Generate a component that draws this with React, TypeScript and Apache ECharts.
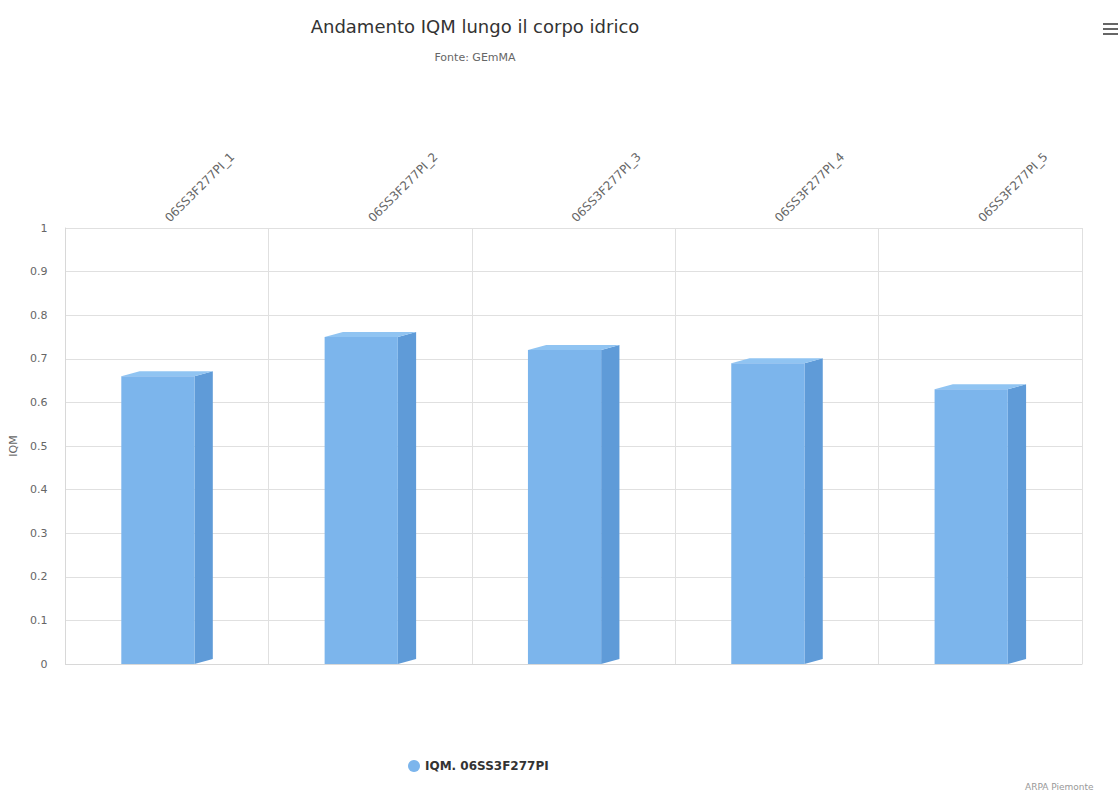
import React, { useEffect, useRef } from "react";
import * as echarts from "echarts";

const categories = [
  "06SS3F277PI_1",
  "06SS3F277PI_2",
  "06SS3F277PI_3",
  "06SS3F277PI_4",
  "06SS3F277PI_5",
];
const iqmValues = [0.66, 0.75, 0.72, 0.69, 0.63];
const yTicks = { min: 0, max: 1, interval: 0.1 };
const seriesName = "IQM. 06SS3F277PI";

const FONT = "'DejaVu Sans', 'Lucida Grande', sans-serif";

export default function App() {
  const ref = useRef<HTMLDivElement>(null);
  useEffect(() => {
    if (!ref.current) return;
    const chart = echarts.init(ref.current, null, { renderer: "svg" });
    const option: any = {
      animation: false,
      backgroundColor: "#ffffff",
      title: [
        {
          text: "Andamento IQM lungo il corpo idrico",
          left: 470,
          top: 12,
          textAlign: "center",
          textStyle: { fontFamily: FONT, fontSize: 18, fontWeight: "normal", color: "#333333" },
        },
        {
          text: "Fonte: GEmMA",
          left: 470,
          top: 47,
          textAlign: "center",
          textStyle: { fontFamily: FONT, fontSize: 11, fontWeight: "normal", color: "#666666" },
        },
      ],
      legend: {
        data: [{ name: seriesName, icon: "circle" }],
        left: 403,
        top: 755,
        itemWidth: 12,
        itemHeight: 12,
        textStyle: { fontFamily: FONT, fontSize: 12, fontWeight: "bold", color: "#333333" },
      },
      grid: { left: 62, right: 38, top: 228, bottom: 128, containLabel: false },
      xAxis: {
        type: "category",
        data: categories,
        position: "top",
        axisLine: { show: true, lineStyle: { color: "#d8d8d8" } },
        axisTick: { show: false },
        splitLine: { show: true, lineStyle: { color: "#e0e0e0" } },
        axisLabel: {
          rotate: 45,
          fontFamily: FONT,
          fontSize: 12,
          color: "#666666",
          margin: 8,
        },
      },
      yAxis: {
        type: "value",
        min: yTicks.min,
        max: yTicks.max,
        interval: yTicks.interval,
        name: "IQM",
        nameLocation: "middle",
        nameGap: 42,
        nameTextStyle: { fontFamily: FONT, fontSize: 11, color: "#666666" },
        axisLine: { show: true, lineStyle: { color: "#d8d8d8" } },
        axisTick: { show: false },
        splitLine: { show: true, lineStyle: { color: "#e0e0e0" } },
        axisLabel: {
          fontFamily: FONT,
          fontSize: 11,
          color: "#666666",
          margin: 18,
          formatter: (v: number) => String(Math.round(v * 10) / 10),
        },
      },
      series: [
        {
          name: seriesName,
          type: "custom",
          itemStyle: { color: "#7cb5ec" },
          encode: { x: 0, y: 1 },
          data: iqmValues.map((v, i) => [i, v]),
          renderItem: (params: any, api: any) => {
            const i = api.value(0);
            const v = api.value(1);
            const top = api.coord([i, v]);
            const base = api.coord([i, 0]);
            const band = api.size([1, 0])[0];
            const w = band * 0.36;
            const d = band * 0.09;
            const dy = 5;
            const L = top[0] - w / 2 - d / 2;
            const R = L + w;
            const yT = top[1];
            const yB = base[1];
            return {
              type: "group",
              children: [
                {
                  type: "polygon",
                  shape: { points: [[R, yT], [R + d, yT - dy], [R + d, yB - dy], [R, yB]] },
                  style: { fill: "#5f9bd8" },
                },
                {
                  type: "polygon",
                  shape: { points: [[L, yT], [R, yT], [R + d, yT - dy], [L + d, yT - dy]] },
                  style: { fill: "#90c4f2" },
                },
                {
                  type: "rect",
                  shape: { x: L, y: yT, width: w, height: yB - yT },
                  style: { fill: "#7cb5ec" },
                },
              ],
            };
          },
        },
      ],
      graphic: [
        { type: "rect", shape: { x: 1103, y: 23, width: 15, height: 2 }, style: { fill: "#666666" } },
        { type: "rect", shape: { x: 1103, y: 28, width: 15, height: 2 }, style: { fill: "#666666" } },
        { type: "rect", shape: { x: 1103, y: 33, width: 15, height: 2 }, style: { fill: "#666666" } },
        {
          type: "text",
          x: 1025,
          y: 782,
          style: { text: "ARPA Piemonte", fontFamily: FONT, fontSize: 9, fill: "#999999" },
        },
      ],
    };
    chart.setOption(option);
    return () => chart.dispose();
  }, []);
  return (
    <div
      ref={ref}
      style={{ position: "fixed", left: 0, top: 0, width: 1120, height: 792 }}
    />
  );
}
